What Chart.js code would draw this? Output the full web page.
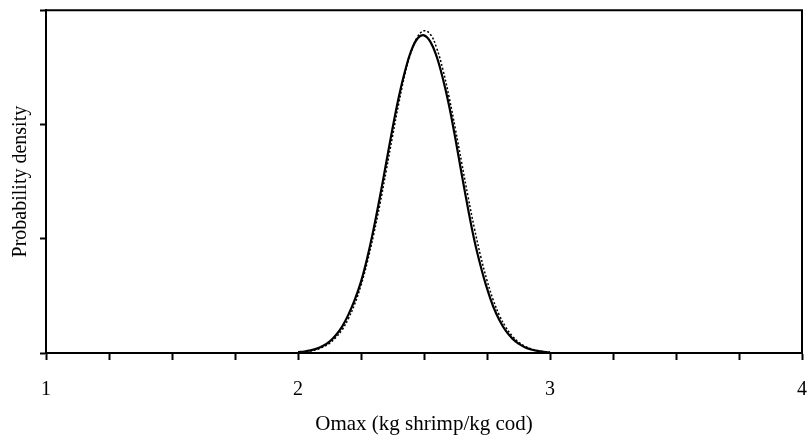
<!DOCTYPE html>
<html>
  <head>
    <title>Omax posterior</title>
    <script src="https://cdn.jsdelivr.net/npm/chart.js"></script>
    <style>
      body { margin: 0; background: #fff; }
      #wrap { width: 810px; height: 442px; }
    </style>
  </head>
  <body>
    <div id="wrap"><canvas id="omax"></canvas></div>

    <script>
      // Omax grid (kg shrimp/kg cod)
      const omax = [
        2.000, 2.025, 2.050, 2.075, 2.100, 2.125, 2.150, 2.175, 2.200, 2.225,
        2.250, 2.275, 2.300, 2.325, 2.350, 2.375, 2.400, 2.425, 2.450, 2.475,
        2.500, 2.525, 2.550, 2.575, 2.600, 2.625, 2.650, 2.675, 2.700, 2.725,
        2.750, 2.775, 2.800, 2.825, 2.850, 2.875, 2.900, 2.925, 2.950, 2.975,
        3.000
      ];
      // posterior density, solid curve
      const densitySolid = [
        0.007, 0.013, 0.023, 0.038, 0.063, 0.100, 0.155, 0.231, 0.336, 0.465,
        0.625, 0.835, 1.085, 1.365, 1.665, 1.965, 2.240, 2.470, 2.650, 2.755,
        2.780, 2.725, 2.595, 2.400, 2.160, 1.870, 1.560, 1.260, 0.985, 0.760,
        0.565, 0.405, 0.285, 0.193, 0.128, 0.082, 0.051, 0.031, 0.018, 0.010,
        0.005
      ];
      // posterior density, dotted curve
      const densityDotted = [
        0.005, 0.010, 0.018, 0.031, 0.053, 0.085, 0.135, 0.203, 0.301, 0.428,
        0.592, 0.795, 1.035, 1.300, 1.595, 1.895, 2.185, 2.445, 2.640, 2.770,
        2.820, 2.790, 2.670, 2.480, 2.235, 1.955, 1.660, 1.365, 1.090, 0.845,
        0.635, 0.462, 0.326, 0.224, 0.150, 0.096, 0.060, 0.036, 0.021, 0.012,
        0.006
      ];
      const xTicks = [1, 2, 3, 4];

      const serif = "'Liberation Serif', 'Times New Roman', serif";

      const toPoints = (ys) => omax.map((x, i) => ({ x: x, y: ys[i] }));

      // top and right edges of the plot frame
      const frame = {
        id: "frame",
        afterDraw(chart) {
          const { ctx, chartArea } = chart;
          ctx.save();
          ctx.strokeStyle = "#000";
          ctx.lineWidth = 2;
          ctx.beginPath();
          ctx.moveTo(chartArea.left, chartArea.top);
          ctx.lineTo(chartArea.right, chartArea.top);
          ctx.lineTo(chartArea.right, chartArea.bottom);
          ctx.stroke();
          ctx.restore();
        },
      };

      const ctx = document.getElementById("omax").getContext("2d");
      new Chart(ctx, {
        type: "line",
        data: {
          datasets: [
            {
              label: "dotted",
              data: toPoints(densityDotted),
              borderColor: "#000",
              borderWidth: 1.5,
              borderDash: [2, 2],
              pointRadius: 0,
              tension: 0.4,
              fill: false,
            },
            {
              label: "solid",
              data: toPoints(densitySolid),
              borderColor: "#000",
              borderWidth: 2.2,
              pointRadius: 0,
              tension: 0.4,
              fill: false,
            },
          ],
        },
        options: {
          responsive: true,
          maintainAspectRatio: false,
          animation: false,
          layout: { padding: { top: 10, right: 8, left: 0, bottom: 0 } },
          plugins: { legend: { display: false }, tooltip: { enabled: false } },
          scales: {
            x: {
              type: "linear",
              min: 1,
              max: 4,
              afterFit: (s) => {
                s.height = 89;
                // let the end labels hang over the edges
                s.paddingLeft = 0;
                s.paddingRight = 0;
              },
              border: { color: "#000", width: 2 },
              grid: {
                drawOnChartArea: false,
                drawTicks: true,
                tickLength: 7,
                tickColor: "#000",
                tickWidth: 2,
              },
              ticks: {
                stepSize: 0.25,
                autoSkip: false,
                maxRotation: 0,
                padding: 18,
                color: "#000",
                font: { family: serif, size: 20 },
                callback: (v) => (xTicks.includes(v) ? String(v) : ""),
              },
              title: {
                display: true,
                text: "Omax (kg shrimp/kg cod)",
                color: "#000",
                font: { family: serif, size: 21 },
                padding: { top: 0, bottom: 5 },
              },
            },
            y: {
              type: "linear",
              min: 0,
              max: 3,
              afterFit: (s) => { s.width = 46; },
              border: { color: "#000", width: 2 },
              grid: {
                drawOnChartArea: false,
                drawTicks: true,
                tickLength: 6,
                tickColor: "#000",
                tickWidth: 2,
              },
              ticks: {
                stepSize: 1,
                color: "#000",
                callback: () => "",
              },
              title: {
                display: true,
                text: "Probability density",
                color: "#000",
                font: { family: serif, size: 20 },
                padding: { top: 9, bottom: 0 },
              },
            },
          },
        },
        plugins: [frame],
      });
    </script>
  </body>
</html>
